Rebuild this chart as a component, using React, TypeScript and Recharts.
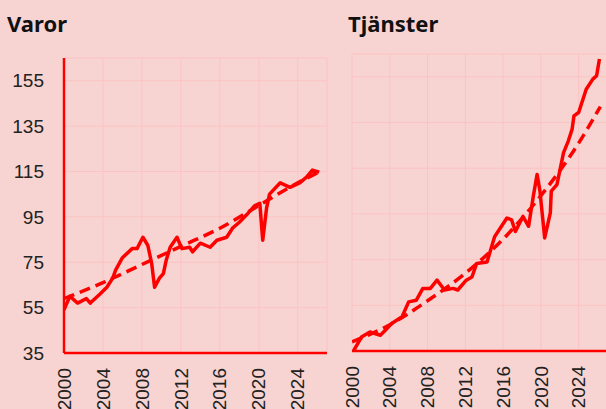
import React from 'react';
import { LineChart, Line, XAxis, YAxis, CartesianGrid } from 'recharts';

const varorYears = [2000.0, 2000.6, 2001.4, 2002.3, 2002.7, 2003.7, 2004.4, 2005.0, 2005.3, 2006.0, 2007.0, 2007.5, 2008.1, 2008.6, 2009.0, 2009.3, 2009.8, 2010.2, 2010.5, 2010.9, 2011.6, 2012.1, 2012.9, 2013.2, 2014.0, 2015.0, 2015.7, 2016.7, 2017.3, 2018.0, 2018.9, 2019.6, 2020.1, 2020.4, 2020.8, 2021.1, 2022.2, 2023.2, 2024.2, 2024.9, 2025.5, 2026.2];
const varorValues = [54, 60, 57, 59, 57, 61, 64, 68, 71.5, 77, 81, 81, 86, 82.5, 74.5, 64, 68, 70, 76, 81.6, 86, 81, 81.6, 79.6, 83.4, 81.6, 84.7, 86, 90, 92.6, 96.6, 100, 101, 84.7, 99, 105, 110, 108, 110, 112.5, 115.6, 114.7];
const varorTrendYears = [2000, 2004, 2008, 2012, 2016, 2020, 2024, 2026.3];
const varorTrendValues = [59, 66, 74, 82, 90, 100, 110, 115];

const tjansterYears = [2000.1, 2001.0, 2001.9, 2003.0, 2003.5, 2004.2, 2005.3, 2006.0, 2006.8, 2007.5, 2008.3, 2009.0, 2009.8, 2010.7, 2011.2, 2012.1, 2012.7, 2013.2, 2014.3, 2015.1, 2016.4, 2016.9, 2017.3, 2018.1, 2018.7, 2019.2, 2019.6, 2019.9, 2020.4, 2021.0, 2021.1, 2021.7, 2022.4, 2022.9, 2023.3, 2023.5, 2024.0, 2024.8, 2025.5, 2025.9, 2026.2];
const tjansterValues = [34.6, 41.1, 43.3, 41.9, 44, 47, 50, 56.5, 57.2, 62.4, 62.4, 66, 61.7, 62.4, 61.7, 66, 67.4, 73.3, 74, 85, 93.2, 92.4, 87.3, 93.9, 89.6, 102.8, 112.3, 105, 84.5, 95.5, 105, 107.8, 121.8, 126.9, 132, 137.9, 139.4, 149.6, 154, 155.5, 162.8];
const tjansterTrendYears = [2000, 2004, 2008, 2012, 2016, 2020, 2024, 2026.3];
const tjansterTrendValues = [39, 46.5, 57, 69, 84, 103, 126, 142];

const yTicks = [35, 55, 75, 95, 115, 135, 155, 165];
const xTicks = [2000, 2004, 2008, 2012, 2016, 2020, 2024, 2027];

const zip = (xs: number[], ys: number[]) => xs.map((x, i) => ({ x, y: ys[i] }));

const RED = '#ff0000';
const GRID = '#fcc3c3';
const BG = '#f7d4d1';
const TICK_FONT = '"Liberation Sans", Arial, sans-serif';

const YearTick = (props: any) => {
  const { x, y, payload } = props;
  if (payload.value > 2024) return null;
  const ty = y + 7;
  return (
    <text
      x={x}
      y={ty}
      transform={`rotate(-90 ${x} ${ty})`}
      textAnchor="end"
      dy="0.35em"
      fontSize={19}
      fill="#222"
      fontFamily={TICK_FONT}
    >
      {payload.value}
    </text>
  );
};

const Title = ({ text, left }: { text: string; left: number }) => (
  <div
    style={{
      position: 'absolute',
      left,
      top: 12,
      fontFamily: '"Noto Sans", sans-serif',
      fontWeight: 700,
      fontSize: 22,
      lineHeight: '22px',
      color: '#111',
    }}
  >
    {text}
  </div>
);

export default function App() {
  return (
    <div style={{ position: 'absolute', left: 0, top: 0, width: 606, height: 409, background: BG, overflow: 'hidden' }}>
      <Title text="Varor" left={7} />
      <Title text="Tjänster" left={348} />
      <div style={{ position: 'absolute', left: 0, top: 0 }}>
        <LineChart width={340} height={409} margin={{ top: 58, right: 13, left: 0, bottom: 0 }}>
          <CartesianGrid stroke={GRID} strokeWidth={1} />
          <XAxis
            dataKey="x"
            type="number"
            domain={[2000, 2027]}
            ticks={xTicks}
            interval={0}
            height={56}
            axisLine={{ stroke: RED, strokeWidth: 2.5 }}
            tickLine={false}
            tick={<YearTick />}
            allowDataOverflow
          />
          <YAxis
            type="number"
            domain={[35, 165]}
            ticks={yTicks}
            interval={0}
            width={64}
            axisLine={{ stroke: RED, strokeWidth: 2.5 }}
            tickLine={false}
            tickSize={6}
            tickMargin={14}
            tickFormatter={(v: number) => (v === 165 ? '' : String(v))}
            tick={{ fontSize: 19, fill: '#222', fontFamily: TICK_FONT }}
            allowDataOverflow
          />
          <Line
            data={zip(varorTrendYears, varorTrendValues)}
            dataKey="y"
            type="monotone"
            stroke={RED}
            strokeWidth={3.5}
            strokeDasharray="11 6"
            dot={false}
            isAnimationActive={false}
          />
          <Line
            data={zip(varorYears, varorValues)}
            dataKey="y"
            type="linear"
            stroke={RED}
            strokeWidth={3.5}
            strokeLinejoin="round"
            dot={false}
            isAnimationActive={false}
          />
        </LineChart>
      </div>
      <div style={{ position: 'absolute', left: 340, top: 0 }}>
        <LineChart width={267} height={409} margin={{ top: 54, right: 0, left: 12, bottom: 0 }}>
          <CartesianGrid stroke={GRID} strokeWidth={1} />
          <XAxis
            dataKey="x"
            type="number"
            domain={[2000, 2027]}
            ticks={xTicks}
            interval={0}
            height={58}
            axisLine={{ stroke: RED, strokeWidth: 2.5 }}
            tickLine={false}
            tick={<YearTick />}
            allowDataOverflow
          />
          <YAxis type="number" domain={[35, 165]} ticks={yTicks} interval={0} hide allowDataOverflow />
          <Line
            data={zip(tjansterTrendYears, tjansterTrendValues)}
            dataKey="y"
            type="monotone"
            stroke={RED}
            strokeWidth={3.5}
            strokeDasharray="11 6"
            dot={false}
            isAnimationActive={false}
          />
          <Line
            data={zip(tjansterYears, tjansterValues)}
            dataKey="y"
            type="linear"
            stroke={RED}
            strokeWidth={3.5}
            strokeLinejoin="round"
            dot={false}
            isAnimationActive={false}
          />
        </LineChart>
      </div>
    </div>
  );
}
